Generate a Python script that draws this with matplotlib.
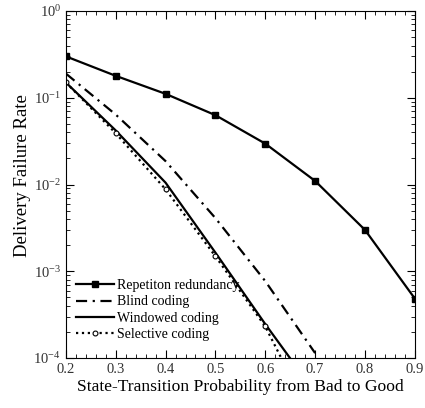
import matplotlib
matplotlib.use('Agg')
import matplotlib.pyplot as plt
from matplotlib.ticker import LogLocator, MultipleLocator, NullFormatter, FormatStrFormatter

plt.rcParams['font.family'] = 'Liberation Serif'
plt.rcParams['mathtext.fontset'] = 'custom'
plt.rcParams['mathtext.rm'] = 'Liberation Serif'
plt.rcParams['mathtext.it'] = 'Liberation Serif:italic'

# state-transition probability (bad -> good)
p = [0.2, 0.3, 0.4, 0.5, 0.6, 0.7, 0.8, 0.9]
p_code = [0.2, 0.3, 0.4, 0.5, 0.6, 0.7]

repetition = [0.30, 0.179, 0.111, 0.063, 0.0296, 0.011, 0.0030, 4.85e-4]
blind = [0.19, 0.064, 0.0186, 0.0041, 7.7e-4, 1.14e-4]
windowed = [0.15, 0.042, 0.0105, 0.00164, 2.46e-4, 4.0e-5]
selective = [0.15, 0.039, 0.0088, 0.00149, 2.31e-4, 1.7e-5]

fig = plt.figure(figsize=(4.25, 4.08), dpi=100)
ax = fig.add_axes([0.155, 0.1225, 0.821, 0.8505])

ax.plot(p, repetition, 'k-', lw=1.6, marker='s', ms=5, label='Repetiton redundancy')
ax.plot(p_code, blind, 'k', ls=(0, (5, 2.5, 1, 2.5)), lw=1.6, label='Blind coding')
ax.plot(p_code, windowed, 'k-', lw=1.6, label='Windowed coding')
ax.plot(p_code, selective, 'k', ls=':', lw=1.6, marker='o', ms=3.5,
        mfc='white', mec='k', mew=0.8, label='Selective coding')

ax.set_yscale('log')
ax.set_xlim(0.2, 0.9)
ax.set_ylim(1e-4, 1)
ax.xaxis.set_major_locator(MultipleLocator(0.1))
ax.xaxis.set_minor_locator(MultipleLocator(0.02))
ax.xaxis.set_major_formatter(FormatStrFormatter('%.1f'))
ax.yaxis.set_major_locator(LogLocator(base=10, numticks=10))
ax.yaxis.set_minor_locator(LogLocator(base=10, subs=range(2, 10), numticks=10))
ax.yaxis.set_minor_formatter(NullFormatter())
ax.tick_params(which='both', direction='in', top=True, right=True, labelsize=10.5,
               labelcolor='#333333')
ax.tick_params(which='major', length=6)
ax.tick_params(which='minor', length=3)

ax.set_xlabel('State-Transition Probability from Bad to Good', fontsize=12.6, labelpad=2)
ax.set_ylabel('Delivery Failure Rate', fontsize=13.5, labelpad=4)
ax.yaxis.set_label_coords(-0.1, 0.525)

ax.legend(loc='lower left', frameon=False, fontsize=10, handlelength=2.8,
          handletextpad=0.15, labelspacing=0.25, borderaxespad=0.3,
          bbox_to_anchor=(0.0, 0.02))

fig.savefig('out.png', dpi=100)
